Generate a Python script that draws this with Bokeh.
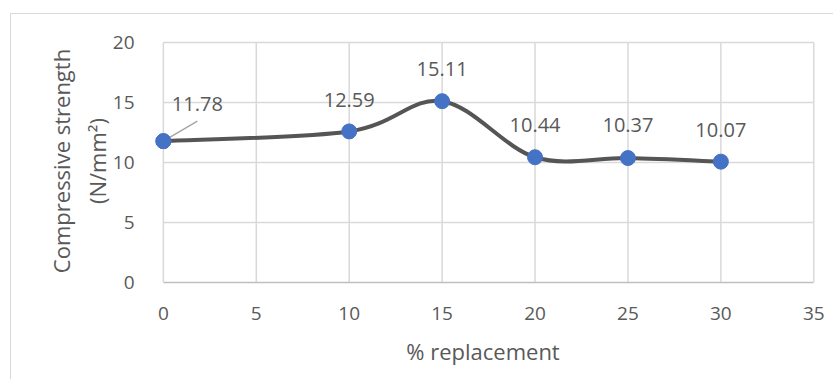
from bokeh.plotting import figure
from bokeh.models import Range1d, FixedTicker, ColumnDataSource
from bokeh.core.properties import value
from bokeh.embed import file_html
from bokeh.resources import INLINE

# ---- data ----
replacement = [0, 10, 15, 20, 25, 30]
strength = [11.78, 12.59, 15.11, 10.44, 10.37, 10.07]
labels = ["11.78", "12.59", "15.11", "10.44", "10.37", "10.07"]
x_ticks = [0, 5, 10, 15, 20, 25, 30, 35]
y_ticks = [0, 5, 10, 15, 20]

FONT = "Open Sans"
TXT = "#595959"
GRID = "#d9d9d9"

x_lo, x_hi = -0.8, 35.2
y_lo, y_hi = 0, 20.25
FW, FH = 669, 243

p = figure(width=822, height=365, output_backend="svg", toolbar_location=None,
           x_range=Range1d(x_lo, x_hi), y_range=Range1d(y_lo, y_hi),
           frame_width=FW, frame_height=FH,
           min_border_left=137, min_border_right=16, min_border_top=25, min_border_bottom=97,
           margin=(13, 0, 0, 10))
p.styles = {"border-left": "1px solid #d9d9d9", "border-top": "1px solid #d9d9d9"}
p.outline_line_color = None
p.xgrid.visible = False
p.ygrid.visible = False
p.background_fill_color = "white"
p.border_fill_color = "white"

# grid lines from tick values
p.segment(x0=x_ticks, y0=[y_ticks[0]] * len(x_ticks), x1=x_ticks, y1=[y_ticks[-1]] * len(x_ticks),
          line_color=GRID, line_width=1.5)
p.segment(x0=[x_ticks[0]] * (len(y_ticks) - 1), y0=y_ticks[1:], x1=[x_ticks[-1]] * (len(y_ticks) - 1),
          y1=y_ticks[1:], line_color=GRID, line_width=1.5)

# axes
xa = p.xaxis[0]
xa.ticker = FixedTicker(ticks=x_ticks)
xa.bounds = (x_ticks[0], x_ticks[-1])
xa.axis_line_color = "#bfbfbf"
xa.axis_line_width = 1.5
xa.major_tick_line_color = None
xa.minor_tick_line_color = None
xa.major_label_text_font = FONT
xa.major_label_text_font_size = "19px"
xa.major_label_text_color = TXT
xa.major_label_standoff = 18
xa.axis_label = "% replacement"
xa.axis_label_text_font = FONT
xa.axis_label_text_font_size = "22px"
xa.axis_label_text_font_style = "normal"
xa.axis_label_text_color = TXT
xa.axis_label_standoff = 13

ya = p.yaxis[0]
ya.ticker = FixedTicker(ticks=y_ticks)
ya.axis_line_color = None
ya.major_tick_line_color = None
ya.minor_tick_line_color = None
ya.major_label_text_font = FONT
ya.major_label_text_font_size = "19px"
ya.major_label_text_color = TXT
ya.major_label_standoff = 8
ya.axis_label = "Compressive strength\n(N/mm\u00b2)"
ya.axis_label_text_font = FONT
ya.axis_label_text_font_size = "22px"
ya.axis_label_text_font_style = "normal"
ya.axis_label_text_color = TXT
ya.axis_label_standoff = -2

# smoothed line (Catmull-Rom Bezier segments through the data points)
n = len(replacement)
pts = list(zip(replacement, strength))
bx0, by0, bx1, by1, cx0, cy0, cx1, cy1 = [], [], [], [], [], [], [], []
for i in range(n - 1):
    p0 = pts[i - 1] if i > 0 else pts[i]
    p1 = pts[i]
    p2 = pts[i + 1]
    p3 = pts[i + 2] if i + 2 < n else pts[i + 1]
    bx0.append(p1[0]); by0.append(p1[1])
    bx1.append(p2[0]); by1.append(p2[1])
    cx0.append(p1[0] + (p2[0] - p0[0]) / 6.0); cy0.append(p1[1] + (p2[1] - p0[1]) / 6.0)
    cx1.append(p2[0] - (p3[0] - p1[0]) / 6.0); cy1.append(p2[1] - (p3[1] - p1[1]) / 6.0)
p.bezier(x0=bx0, y0=by0, x1=bx1, y1=by1, cx0=cx0, cy0=cy0, cx1=cx1, cy1=cy1,
         line_color="#555555", line_width=4, line_cap="round")

p.scatter(replacement, strength, size=15, fill_color="#4472C4", line_color="#4472C4")

# data labels
x_off = [34, 0, 0, 0, 0, 0]
y_off = [-37, -31, -32, -32, -33, -32]
src = ColumnDataSource(dict(x=replacement, y=strength, t=labels, xo=x_off, yo=y_off))
p.text(x="x", y="y", text="t", x_offset="xo", y_offset="yo", source=src,
       text_font=value(FONT), text_font_size="20px", text_color=TXT,
       text_align="center", text_baseline="middle")

# leader line for the first (moved) label
px_x = FW / (x_hi - x_lo)
px_y = FH / (y_hi - y_lo)
p.segment(x0=[replacement[0]], y0=[strength[0]],
          x1=[replacement[0] + 34 / px_x], y1=[strength[0] + 20 / px_y],
          line_color="#a6a6a6", line_width=1.5)
p.scatter([replacement[0]], [strength[0]], size=15, fill_color="#4472C4", line_color="#4472C4")

open("out.html", "w").write(file_html(p, INLINE))
